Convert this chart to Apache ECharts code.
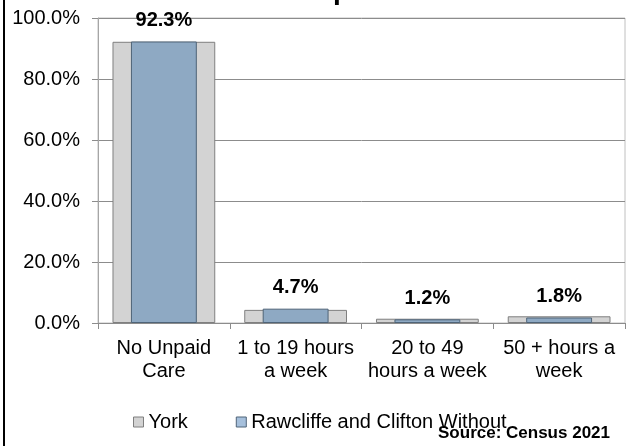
<!DOCTYPE html>
<html>
<head>
<meta charset="utf-8">
<script src="https://cdn.jsdelivr.net/npm/echarts@6/dist/echarts.min.js"></script>
<style>
html,body{margin:0;padding:0;background:#fff;}
#chart{width:630px;height:446px;}
</style>
</head>
<body>
<div id="chart"></div>
<script>
var categories = ['No Unpaid\nCare', '1 to 19 hours\na week', '20 to 49\nhours a week', '50 + hours a\nweek'];
var yorkValues = [92.2, 4.3, 1.4, 2.2];
var rawcliffeValues = [92.3, 4.7, 1.2, 1.8];
var seriesNames = ['York', 'Rawcliffe and Clifton Without'];
var titleText = 'Provision of Unpaid Care';
var sourceText = 'Source: Census 2021';

var FONT = 'Liberation Sans, Arial, sans-serif';
var chart = echarts.init(document.getElementById('chart'), null, {renderer: 'canvas'});
chart.setOption({
  animation: false,
  backgroundColor: '#ffffff',
  title: [{
    text: titleText,
    left: 126,
    top: -23,
    padding: 0,
    textStyle: {fontFamily: FONT, fontSize: 28, fontWeight: 'bold', color: '#000'}
  }],
  graphic: [
    {type: 'rect', left: 3, top: 0, shape: {width: 2, height: 446}, style: {fill: '#000'}},
    {type: 'text', right: 20, top: 425, style: {text: sourceText, font: 'bold 17px ' + FONT, fill: '#000'}}
  ],
  legend: {
    left: 128,
    top: 407,
    itemWidth: 10,
    itemHeight: 10,
    itemGap: 48,
    icon: 'rect',
    textStyle: {fontFamily: FONT, fontSize: 20, color: '#000'},
    data: [
      {name: seriesNames[0], itemStyle: {color: '#d3d3d3', borderColor: '#7f7f7f', borderWidth: 1}},
      {name: seriesNames[1], itemStyle: {color: '#a6c0dc', borderColor: '#4f6478', borderWidth: 1}}
    ]
  },
  grid: {left: 98, right: 5, top: 18, bottom: 123, show: true, borderColor: '#c0c0c0', borderWidth: 1, containLabel: false},
  xAxis: [{
    type: 'category',
    data: categories,
    axisLine: {lineStyle: {color: '#8c8c8c', width: 1}},
    axisTick: {show: true, length: 6, lineStyle: {color: '#8c8c8c'}},
    axisLabel: {fontFamily: FONT, fontSize: 20, color: '#000', margin: 14, lineHeight: 23, interval: 0}
  }, {
    type: 'category',
    data: categories,
    show: false
  }],
  yAxis: {
    type: 'value',
    min: 0, max: 100, interval: 20,
    axisLine: {show: true, lineStyle: {color: '#a6a6a6', width: 1}},
    axisTick: {show: true, length: 6, lineStyle: {color: '#8c8c8c'}},
    splitLine: {show: true, lineStyle: {color: '#8c8c8c', width: 1}},
    axisLabel: {fontFamily: FONT, fontSize: 20, color: '#000', margin: 18,
      formatter: function (v) { return v.toFixed(1) + '%'; }}
  },
  series: [{
    name: seriesNames[0],
    type: 'bar',
    xAxisIndex: 0,
    barWidth: '78%',
    data: yorkValues,
    itemStyle: {color: '#d3d3d3', borderColor: '#7f7f7f', borderWidth: 1},
    z: 2
  }, {
    name: seriesNames[1],
    type: 'bar',
    xAxisIndex: 1,
    barWidth: '50%',
    data: rawcliffeValues,
    itemStyle: {color: '#8ea9c3', borderColor: '#4f6478', borderWidth: 1},
    label: {
      show: true, position: 'top', distance: 11,
      fontFamily: FONT, fontSize: 20, fontWeight: 'bold', color: '#000',
      formatter: function (p) { return p.value.toFixed(1) + '%'; }
    },
    z: 3
  }]
});
</script>
</body>
</html>
